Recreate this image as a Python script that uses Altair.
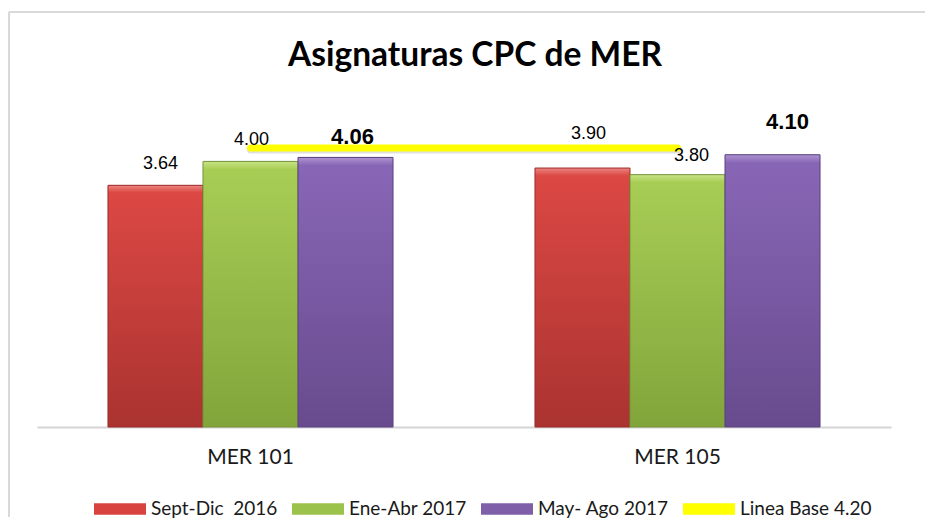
import altair as alt
import pandas as pd

# ---- data ----
categories = ["MER 101", "MER 105"]
series_names = ["Sept-Dic  2016", "Ene-Abr 2017", "May- Ago 2017"]
sept_dic_2016 = [3.64, 3.90]
ene_abr_2017 = [4.00, 3.80]
may_ago_2017 = [4.06, 4.10]
base_name = "Linea Base 4.20"
base_value = 4.20
title_text = "Asignaturas CPC de MER"

rows = []
for s, vals in zip(series_names, [sept_dic_2016, ene_abr_2017, may_ago_2017]):
    for c, v in zip(categories, vals):
        rows.append({"cat": c, "series": s, "value": v})
df = pd.DataFrame(rows)
base_df = pd.DataFrame({"cat": categories,
                        "series": [base_name] * len(categories),
                        "value": [base_value] * len(categories)})

# ---- styles ----
W, H = 854, 332
solid = ["#d9433f", "#9bc24a", "#7f5fa8", "#ffff00"]
grad_colors = [
    ("#ec8581", "#dc4844", "#aa3330", "#9a2d2a"),
    ("#c8e486", "#a8cd55", "#82a53b", "#74943a"),
    ("#ad93d1", "#8866b6", "#684b8e", "#5a4080"),
]
label_style = {  # (dx, dy) offsets of the data labels, relative to bar top
    ("MER 101", "Sept-Dic  2016"): (5, -21),
    ("MER 101", "Ene-Abr 2017"): (1, -21),
    ("MER 101", "May- Ago 2017"): (7, -20),
    ("MER 105", "Sept-Dic  2016"): (6, -34),
    ("MER 105", "Ene-Abr 2017"): (14, -19),
    ("MER 105", "May- Ago 2017"): (15, -33),
}
label_font = "Liberation Sans, Arial, sans-serif"

x_scale = alt.Scale(domain=categories, paddingInner=0, paddingOuter=0)
xo_scale = alt.Scale(domain=series_names, paddingInner=0, paddingOuter=0.747)
y_scale = alt.Scale(domain=[0, 5])
color_scale = alt.Scale(domain=series_names + [base_name], range=solid)

X = alt.X("cat:N", scale=x_scale, sort=categories,
          axis=alt.Axis(title=None, labelAngle=0, ticks=False, labelPadding=19,
                        labelFont="Lato", labelFontSize=21, labelColor="#1a1a1a",
                        domainColor="#d4d4d4", domainWidth=2, grid=False))
XO = alt.XOffset("series:N", scale=xo_scale, sort=series_names)
Y = alt.Y("value:Q", scale=y_scale, axis=None)

legend = alt.Legend(title=None, orient="none", legendX=70, legendY=401,
                    direction="horizontal", columns=4,
                    symbolType="M-2,-0.45H2V0.45H-2Z", symbolSize=676,
                    symbolStrokeWidth=0, labelOffset=18, columnPadding=14,
                    labelFont="Lato", labelFontSize=19, labelColor="#1a1a1a",
                    labelExpr="replace(datum.label, '  ', ' \u00a0')")

solid_bars = alt.Chart(df).mark_bar().encode(
    x=X, xOffset=XO, y=Y,
    color=alt.Color("series:N", scale=color_scale, legend=legend))

layers = [solid_bars]
for s, (hi, top, bot, edge) in zip(series_names, grad_colors):
    g = alt.Gradient(gradient="linear", x1=0, x2=0, y1=0, y2=1,
                     stops=[alt.GradientStop(offset=0, color=hi),
                            alt.GradientStop(offset=0.03, color=top),
                            alt.GradientStop(offset=1, color=bot)])
    layers.append(
        alt.Chart(df).transform_filter(alt.datum.series == s)
        .mark_bar(fill=g, stroke=edge, strokeWidth=1)
        .encode(x=X, xOffset=XO, y=Y))

shadow = alt.Chart(base_df).mark_line(strokeWidth=7, strokeCap="round",
                                      color="#000000", opacity=0.12, yOffset=2).encode(x=X, y=Y)
line = alt.Chart(base_df).mark_line(strokeWidth=7, strokeCap="round").encode(
    x=X, y=Y, color=alt.Color("series:N", scale=color_scale, legend=legend))
layers += [shadow, line]

for (c, s), (dx, dy) in label_style.items():
    bold = s == series_names[-1]
    layers.append(
        alt.Chart(df).transform_filter((alt.datum.cat == c) & (alt.datum.series == s))
        .mark_text(dx=dx, dy=dy, baseline="middle", align="center", font=label_font,
                   fontSize=22 if bold else 18, fontWeight="bold" if bold else "normal",
                   color="#000000")
        .encode(x=X, xOffset=XO, y=Y, text=alt.Text("value:Q", format=".2f")))

frame_df = pd.DataFrame({"k": [0]})
frame_top = alt.Chart(frame_df).mark_rule(color="#d9d9d9", strokeWidth=2).encode(
    x=alt.value(-28), x2=alt.value(888), y=alt.value(-83))
frame_left = alt.Chart(frame_df).mark_rule(color="#d9d9d9", strokeWidth=2).encode(
    x=alt.value(-28), y=alt.value(-83), y2=alt.value(422))
layers += [frame_top, frame_left]

chart = alt.layer(*layers).properties(
    width=W, height=H,
    title=alt.TitleParams(title_text, font="Lato", fontSize=33.5, fontWeight="bold",
                          color="#000000", anchor="middle", baseline="alphabetic",
                          offset=-88, dx=11),
    autosize=alt.AutoSizeParams(type="none"),
    padding={"left": 29, "top": 87, "right": 34, "bottom": 98},
).configure(background="white").configure_view(stroke=None)

chart.save("out.html", embed_options={"renderer": "svg", "actions": False})
